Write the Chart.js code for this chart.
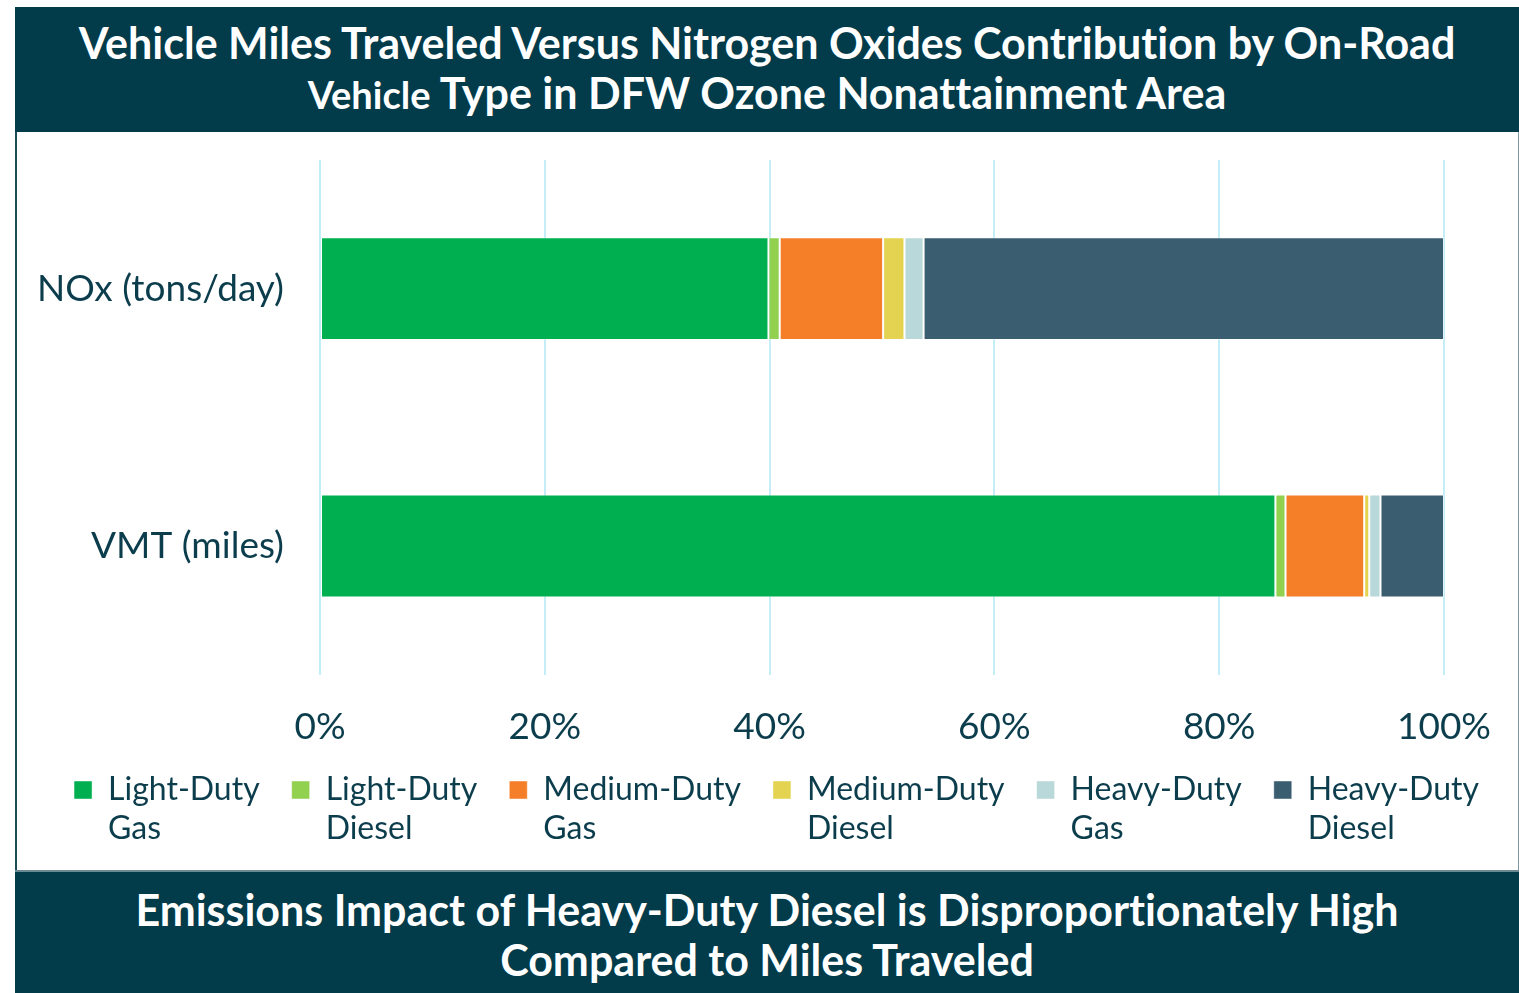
<!DOCTYPE html>
<html>
<head>
<meta charset="utf-8">
<script src="https://cdn.jsdelivr.net/npm/chart.js@4.4.1/dist/chart.umd.min.js"></script>
<style>
body { margin:0; background:#fff; font-family: Lato, sans-serif; font-variant-ligatures: none; }
.band { position:absolute; left:15px; width:1504px; background:#023b4a; color:#fff; text-align:center; font-weight:bold; font-size:43px; line-height:50px; box-sizing:border-box; }
#head { top:7px; height:125px; padding-top:11px; }
#foot { top:870px; height:123px; padding-top:13px; border-top:2px solid #6b8a94; }
#panel { position:absolute; left:15px; top:132px; width:1504px; height:738px; box-sizing:border-box; border-left:2px solid #1d4a57; border-right:1px solid #7d99a1; }
.small { font-size:38px; }
</style>
</head>
<body>
<div id="head" class="band">Vehicle Miles Traveled Versus Nitrogen Oxides Contribution by On-Road<br><span class="small">Vehicle</span> Type in DFW Ozone Nonattainment Area</div>
<div id="panel"><canvas id="myChart" width="1501" height="738"></canvas></div>
<div id="foot" class="band">Emissions Impact of Heavy-Duty Diesel is Disproportionately High<br>Compared to Miles Traveled</div>
<script>
var categories = ["NOx (tons/day)", "VMT (miles)"];
var seriesNames = [["Light-Duty", "Gas"], ["Light-Duty", "Diesel"], ["Medium-Duty", "Gas"],
  ["Medium-Duty", "Diesel"], ["Heavy-Duty", "Gas"], ["Heavy-Duty", "Diesel"]];
// percent share of each vehicle type
var lightGas = [39.9, 85.0];
var lightDiesel = [1.0, 0.9];
var mediumGas = [9.2, 7.0];
var mediumDiesel = [1.9, 0.45];
var heavyGas = [1.7, 1.0];
var heavyDiesel = [46.3, 5.65];
var barColors = ["#00b050", "#92d050", "#f47f28", "#e4d350", "#b8d8d9", "#3a5d70"];
var xTicks = [0, 20, 40, 60, 80, 100];

var allValues = [lightGas, lightDiesel, mediumGas, mediumDiesel, heavyGas, heavyDiesel];
var textColor = "#0c3d4c";

// legend labels are two lines; measure only the longest line, not "a,b"
var origMeasure = CanvasRenderingContext2D.prototype.measureText;
CanvasRenderingContext2D.prototype.measureText = function(t) {
  if (Array.isArray(t)) {
    var ctx = this;
    var best = origMeasure.call(ctx, "");
    t.forEach(function(s) {
      var m = origMeasure.call(ctx, s);
      if (m.width > best.width) best = m;
    });
    return best;
  }
  return origMeasure.call(this, t);
};

var datasets = [];
for (var i = 0; i < allValues.length; i++) {
  datasets.push({
    label: seriesNames[i],
    data: allValues[i],
    backgroundColor: barColors[i],
    borderColor: "rgba(255,255,255,0.45)",
    borderWidth: 1,
    borderSkipped: false,
    categoryPercentage: 0.8,
    barPercentage: 0.5
  });
}

var chart = new Chart("myChart", {
  type: "bar",
  data: { labels: categories, datasets: datasets },
  options: {
    responsive: false,
    animation: false,
    indexAxis: "y",
    layout: { padding: { left: 18, right: 0, top: 28, bottom: 15 } },
    scales: {
      x: {
        stacked: true,
        min: 0,
        max: 100,
        afterBuildTicks: function(scale) {
          scale.ticks = xTicks.map(function(v) { return { value: v }; });
        },
        afterFit: function(scale) {
          scale.paddingLeft = 0;
          scale.paddingRight = 74;
          scale.height = scale.height - 37;
        },
        grid: { color: "#c4eef7", lineWidth: 2, drawTicks: false },
        border: { display: false },
        ticks: {
          padding: 30,
          color: textColor,
          font: { family: "Lato", size: 37 },
          callback: function(v) { return v + "%"; }
        }
      },
      y: {
        stacked: true,
        grid: { display: false, drawTicks: false },
        border: { display: false },
        afterFit: function(scale) {
          scale.width = 285;
          scale.paddingTop = 0;
          scale.paddingBottom = 0;
        },
        ticks: {
          padding: 36,
          color: textColor,
          font: { family: "Lato", size: 37 }
        }
      }
    },
    plugins: {
      legend: {
        position: "bottom",
        labels: {
          color: textColor,
          font: { family: "Lato", size: 32, lineHeight: 1.22 },
          boxWidth: 18,
          boxHeight: 18,
          padding: 32
        }
      },
      tooltip: { enabled: false }
    }
  }
});

// make room for the second legend line (legend clips to its own box)
var legendFit = chart.legend.fit;
chart.legend.fit = function() {
  legendFit.call(this);
  this.height += 39;
};
chart.update();
</script>
</body>
</html>
